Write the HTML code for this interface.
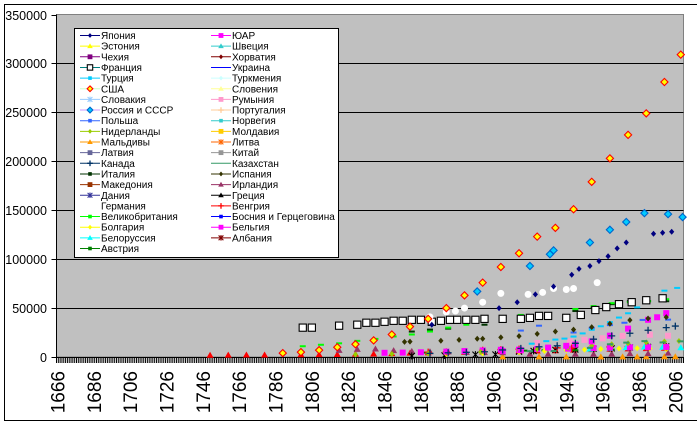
<!DOCTYPE html>
<html><head><meta charset="utf-8"><title>Население стран</title>
<style>
html,body{margin:0;padding:0;background:#fff;}
svg{display:block;font-family:"Liberation Sans",Arial,sans-serif;}
</style></head>
<body>
<svg id="chart" width="697" height="425" viewBox="0 0 697 425">
  <rect x="4.5" y="4.5" width="700" height="416" fill="#fff" stroke="#000"/>
  <rect x="56.5" y="14.5" width="627" height="342.5" fill="#c0c0c0" stroke="#808080"/>
  <g id="grid"></g>
  <g id="yaxis"></g>
  <g id="xaxis"></g>
  <g id="series"></g>
  <g id="legend"></g>
</svg>
<script>
const yTicks = [0,50000,100000,150000,200000,250000,300000,350000];
const firstYear = 1666, lastYear = 2010;
const yearLabels = [1666,1686,1706,1726,1746,1766,1786,1806,1826,1846,1866,1886,1906,1926,1946,1966,1986,2006];

const usaYears = [1790,1800,1810,1820,1830,1840,1850,1860,1870,1880,1890,1900,1910,1920,1930,1940,1950,1960,1970,1980,1990,2000,2009];
const usaValues = [4000,5000,7000,10000,13000,17000,23000,31000,39000,50000,63000,76000,92000,106000,123000,132000,151000,179000,203000,227000,249000,281000,309000];
const russiaYears = [1897,1926,1937,1939,1959,1970,1979,1989,2002,2010];
const russiaValues = [67000,93000,105000,109000,117000,130000,138000,147000,146000,143000];
const japanYears = [1872,1909,1919,1929,1939,1949,1953,1959,1964,1969,1974,1979,1994,1999,2004];
const japanValues = [33000,50000,56000,64000,72000,84000,90000,93000,98000,103000,111000,117000,126000,127000,128000];
const germanyYears = [1871,1880,1885,1890,1900,1910,1925,1933,1939,1946,1950,1963];
const germanyValues = [41000,46000,47000,50000,56000,65000,64000,66000,70000,69000,70000,76000];
const franceYears = [1801,1806,1821,1831,1836,1841,1846,1851,1856,1861,1866,1872,1877,1882,1886,1891,1896,1901,1911,1921,1926,1931,1936,1946,1954,1962,1968,1975,1982,1990,1999];
const franceValues = [30000,30000,32000,33000,35000,35000,36000,37000,37000,38000,38000,36000,37000,38000,38000,38000,38000,39000,39000,39000,40000,42000,42000,40000,43000,48000,51000,54000,56000,58000,60000];
const ukYears = [1801,1811,1821,1831,1841,1851,1861,1871,1881,1891,1901,1911,1921,1931,1951,1961,1971,1981,1991,2001];
const ukValues = [11000,12500,14000,16500,18500,21000,23000,26000,30000,33000,37000,41000,43000,45000,49000,52000,55000,56000,57000,59000];
const italyYears = [1861,1871,1881,1901,1911,1921,1931,1936,1951,1961,1971,1981,1991,2001];
const italyValues = [26000,28000,29000,33000,36000,38000,41000,42000,47000,50000,54000,57000,57000,57000];
const spainYears = [1857,1860,1877,1887,1897,1900,1910,1920,1930,1940,1950,1960,1970,1981,1991,2001];
const spainValues = [15500,15700,16600,17500,18600,18600,20000,21300,23600,26000,28000,30500,34000,37700,39400,40800];
const canadaYears = [1871,1881,1891,1901,1911,1921,1931,1941,1951,1961,1971,1981,1991,2001,2006];
const canadaValues = [3700,4300,4800,5400,7200,8800,10400,11500,14000,18200,21600,24300,27300,30000,31600];
const turkeyYears = [1927,1935,1940,1945,1950,1955,1960,1965,1970,1975,1980,1985,1990,2000,2007];
const turkeyValues = [13600,16200,17800,18800,20900,24100,27800,31400,35600,40300,44700,50700,56500,67800,70600];
const polandYears = [1921,1931,1950,1960,1970,1978,1988,2002];
const polandValues = [27000,32000,25000,29800,32600,35000,37900,38200];
const safricaYears = [1911,1921,1936,1946,1951,1960,1970,1980,1991,1996,2001];
const safricaValues = [6000,6900,9600,11400,12700,16000,21800,29000,38000,40600,44800];
const romaniaYears = [1930,1948,1956,1966,1977,1992,2002];
const romaniaValues = [14300,15900,17500,19100,21600,22800,21700];
const swedenYears = [1750,1760,1770,1780,1800,1810,1820,1830,1840,1850,1860,1870,1880,1890,1900,1910,1920,1930,1940,1950,1960,1970,1980,1990,2000];
const swedenValues = [1800,1900,2000,2100,2300,2400,2600,2900,3100,3500,3900,4200,4600,4800,5100,5500,5900,6100,6400,7000,7500,8100,8300,8600,8900];
const belgiumYears = [1846,1856,1866,1880,1890,1900,1910,1920,1930,1947,1961,1970,1981,1991,2001];
const belgiumValues = [4300,4500,4800,5500,6100,6700,7400,7500,8100,8500,9200,9700,9800,10000,10300];
const netherlandsYears = [1830,1850,1870,1899,1920,1930,1947,1960,1971,1980,1990,2000,2008];
const netherlandsValues = [2600,3100,3600,5100,6900,7900,9600,11500,13000,14100,15000,15900,16400];
const irelandYears = [1821,1831,1841,1851,1861,1871,1881,1891,1901,1911,1926,1936,1951,1961,1971,1981,1991,2002];
const irelandValues = [6800,7800,8200,6500,5800,5400,5200,4700,4500,4400,3000,3000,2960,2800,3000,3400,3500,3900];
const belarusYears = [1959,1970,1979,1989,1999,2009];
const belarusValues = [8100,9000,9600,10200,10000,9500];
const bulgariaYears = [1880,1900,1920,1934,1946,1956,1965,1975,1985,1992,2001];
const bulgariaValues = [2800,3700,4800,6100,7000,7600,8200,8700,8900,8500,7900];
const hungaryYears = [1870,1880,1900,1910,1920,1930,1941,1949,1960,1970,1980,1990,2001];
const hungaryValues = [5000,5300,6900,7600,8000,8700,9300,9200,10000,10300,10700,10400,10200];
const maldivesYears = [1911,1931,1946,1965,1977,1985,1990,2000,2006];
const maldivesValues = [70,80,80,100,140,180,210,270,300];
const greeceYears = [1861,1879,1896,1907,1920,1928,1940,1951,1961,1971,1981,1991,2001];
const greeceValues = [1100,1700,2400,2600,5500,6200,7300,7600,8400,8800,9700,10300,10900];
const austriaYears = [1869,1880,1890,1900,1910,1923,1934,1951,1961,1971,1981,1991,2001];
const austriaValues = [4500,4900,5400,6000,6600,6500,6800,6900,7100,7500,7600,7800,8000];
const kazakhYears = [1926,1939,1959,1970,1979,1989,1999,2009];
const kazakhValues = [6000,6100,9300,13000,14700,16200,14900,16000];

const margin = {left:56.5, right:683.5, top:14.5, bottom:357};
const yMax = 350000;
const catW = (margin.right - margin.left) / (lastYear - firstYear + 1);
function xScale(year){ return margin.left + (year - firstYear + 0.5) * catW; }
function yScale(v){ return margin.bottom - v / yMax * (margin.bottom - margin.top); }

const NS = "http://www.w3.org/2000/svg";
function mk(tag, attrs, parent){
  const e = document.createElementNS(NS, tag);
  for (const k in attrs) e.setAttribute(k, attrs[k]);
  parent.appendChild(e);
  return e;
}

const grid = document.getElementById('grid');
const yaxis = document.getElementById('yaxis');
yTicks.forEach(t => {
  const y = Math.round(yScale(t)) + 0.5;
  if (t > 0 && t < yMax) {
    const gl = mk('line', {x1:margin.left, x2:margin.right, y1:y, y2:y, stroke:'#000', 'stroke-width':1}, grid);
    
    
  }
  mk('line', {x1:margin.left-5, x2:margin.left, y1:y, y2:y, stroke:'#000'}, yaxis);
  const tx = mk('text', {x:47, y:y+4.5, 'text-anchor':'end', 'font-size':'12.5', fill:'#000'}, yaxis);
  tx.textContent = t;
  
  
});
mk('line', {x1:margin.left, x2:margin.left, y1:margin.top, y2:margin.bottom, stroke:'#000'}, yaxis);

const xaxis = document.getElementById('xaxis');
mk('line', {x1:margin.left, x2:margin.right, y1:margin.bottom+0.5, y2:margin.bottom+0.5, stroke:'#000'}, xaxis);
for (let yr = firstYear; yr <= lastYear + 1; yr++) {
  const x = margin.left + (yr - firstYear) * catW;
  mk('line', {x1:x, x2:x, y1:margin.bottom, y2:margin.bottom+6, stroke:'#000', 'stroke-width':1}, xaxis);
}
yearLabels.forEach(yr => {
  const x = xScale(yr);
  const tx = mk('text', {transform:'translate(' + (x+7) + ',371) rotate(-90)', 'text-anchor':'end', 'font-size':'19', fill:'#000'}, xaxis);
  tx.textContent = yr;
  
  
});

function marker(g, type, x, y, fill, stroke, s){
  s = s || 1;
  switch(type){
    case 'diamond': mk('polygon', {points:`${x},${y-3.6*s} ${x+3.6*s},${y} ${x},${y+3.6*s} ${x-3.6*s},${y}`, fill:fill, stroke:stroke, 'stroke-width':1.1}, g); break;
    case 'sdiamond': mk('polygon', {points:`${x},${y-3*s} ${x+2.6*s},${y} ${x},${y+3*s} ${x-2.6*s},${y}`, fill:fill}, g); break;
    case 'square': mk('rect', {x:x-3.6*s, y:y-3.6*s, width:7.2*s, height:7.2*s, fill:fill, stroke:stroke, 'stroke-width':1.1}, g); break;
    case 'ssquare': mk('rect', {x:x-3*s, y:y-3*s, width:6*s, height:6*s, fill:fill}, g); break;
    case 'tri': mk('polygon', {points:`${x},${y-3.5*s} ${x+3.5*s},${y+2.5*s} ${x-3.5*s},${y+2.5*s}`, fill:fill}, g); break;
    case 'dash': mk('rect', {x:x-3*s, y:y-1, width:6*s, height:2, fill:fill}, g); break;
    case 'circle': mk('circle', {cx:x, cy:y, r:3.5*s, fill:fill}, g); break;
    case 'plus': mk('path', {d:`M${x-3.5*s},${y}H${x+3.5*s}M${x},${y-3.5*s}V${y+3.5*s}`, stroke:fill, 'stroke-width':1.3}, g); break;
    case 'star': mk('path', {d:`M${x-3*s},${y-3*s}L${x+3*s},${y+3*s}M${x+3*s},${y-3*s}L${x-3*s},${y+3*s}M${x},${y-3.5*s}V${y+3.5*s}`, stroke:fill, 'stroke-width':1.1}, g); break;
  }
}

const seriesLayer = document.getElementById('series');
function drawSeries(name, years, values, type, fill, stroke){
  const g = mk('g', {}, seriesLayer);
  
  
  years.forEach((yr, i) => marker(g, type, xScale(yr), yScale(values[i]), fill, stroke));
}
drawSeries('maldives', maldivesYears, maldivesValues, 'tri', '#ff9900');
drawSeries('sweden', swedenYears, swedenValues, 'tri', '#ff0000');
drawSeries('ireland', irelandYears, irelandValues, 'tri', '#993366');
drawSeries('greece', greeceYears, greeceValues, 'star', '#000000');
drawSeries('austria', austriaYears, austriaValues, 'dash', '#008000');
drawSeries('bulgaria', bulgariaYears, bulgariaValues, 'sdiamond', '#ffff00');
drawSeries('hungary', hungaryYears, hungaryValues, 'plus', '#ff0000');
drawSeries('belarus', belarusYears, belarusValues, 'tri', '#00ffff');
drawSeries('belgium', belgiumYears, belgiumValues, 'ssquare', '#ff00ff');
drawSeries('netherlands', netherlandsYears, netherlandsValues, 'sdiamond', '#99cc00');
drawSeries('kazakhstan', kazakhYears, kazakhValues, 'dash', '#339966');
drawSeries('romania', romaniaYears, romaniaValues, 'ssquare', '#ff99cc');
drawSeries('south-africa', safricaYears, safricaValues, 'ssquare', '#ff00ff');
drawSeries('poland', polandYears, polandValues, 'dash', '#3366ff');
drawSeries('turkey', turkeyYears, turkeyValues, 'dash', '#00ccff');
drawSeries('canada', canadaYears, canadaValues, 'plus', '#003366');
drawSeries('spain', spainYears, spainValues, 'sdiamond', '#333300');
drawSeries('italy', italyYears, italyValues, 'dash', '#003300');
drawSeries('uk', ukYears, ukValues, 'dash', '#00ff00');
drawSeries('france', franceYears, franceValues, 'square', '#ffffff', '#000000');
drawSeries('germany', germanyYears, germanyValues, 'circle', '#ffffff');
drawSeries('japan', japanYears, japanValues, 'sdiamond', '#000080');
drawSeries('russia', russiaYears, russiaValues, 'diamond', '#00ccff', '#0066cc');
drawSeries('usa', usaYears, usaValues, 'diamond', '#ffff00', '#ff0000');

const legendCol1 = ['Япония','Эстония','Чехия','Франция','Турция','США','Словакия','Россия и СССР','Польша','Нидерланды','Мальдивы','Латвия','Канада','Италия','Македония','Дания','Германия','Великобритания','Болгария','Белоруссия','Австрия'];
const legendCol2 = ['ЮАР','Швеция','Хорватия','Украина','Туркмения','Словения','Румыния','Португалия','Норвегия','Молдавия','Литва','Китай','Казахстан','Испания','Ирландия','Греция','Венгрия','Босния и Герцеговина','Бельгия','Албания'];
const legendStyle1 = [['#000080','sdiamond'],['#ffff00','tri'],['#800080','ssquare'],['#008080','square'],['#00ccff','dash'],['#ccffcc','diamond'],['#99ccff','star'],['#cc99ff','diamond'],['#3366ff','dash'],['#99cc00','sdiamond'],['#ff9900','tri'],['#666699','ssquare'],['#003366','plus'],['#003300','dash'],['#993300','ssquare'],['#333399','star'],['#ffffff','none'],['#00ff00','dash'],['#ffff00','sdiamond'],['#00ffff','tri'],['#008000','dash']];
const legendStyle2 = [['#ff00ff','ssquare'],['#33cccc','tri'],['#800000','sdiamond'],['#0000ff','none'],['#ccffff','sdiamond'],['#ffff99','tri'],['#ff99cc','ssquare'],['#ffcc99','plus'],['#33cccc','dash'],['#ffcc00','ssquare'],['#ff6600','star'],['#969696','ssquare'],['#339966','none'],['#333300','sdiamond'],['#993366','tri'],['#000000','tri'],['#ff0000','plus'],['#0000ff','dash'],['#ff00ff','ssquare'],['#800000','star']];
const lg = document.getElementById('legend');
mk('rect', {x:74.5, y:28.5, width:264, height:229, fill:'#fff', stroke:'#000'}, lg);
function legendEntry(label, style, x0, i){
  const y = 35.5 + i * 10.65;
  const g = mk('g', {}, lg);
  
  
  const lineColor = style[0] === '#ffffff' ? 'none' : style[0];
  mk('line', {x1:x0, x2:x0+20, y1:y, y2:y, stroke: lineColor, 'stroke-width':1}, g);
  if (style[1] === 'square') marker(g, 'square', x0+10, y, '#fff', '#000', 0.75);
  else if (style[1] === 'diamond') marker(g, 'diamond', x0+10, y, label === 'США' ? '#ffff00' : '#00ccff', label === 'США' ? '#ff0000' : '#0066cc', 0.8);
  else if (style[1] === 'dash') marker(g, 'ssquare', x0+10, y, style[0], null, 0.6);
  else if (style[1] !== 'none') marker(g, style[1], x0+10, y, style[0], null, 0.8);
  const t = mk('text', {x:x0+21, y:y+3.5, 'font-size':'10', fill:'#000'}, g);
  t.textContent = label;
}
legendCol1.forEach((l,i) => legendEntry(l, legendStyle1[i], 80, i));
legendCol2.forEach((l,i) => legendEntry(l, legendStyle2[i], 211, i));
</script>
</body></html>
